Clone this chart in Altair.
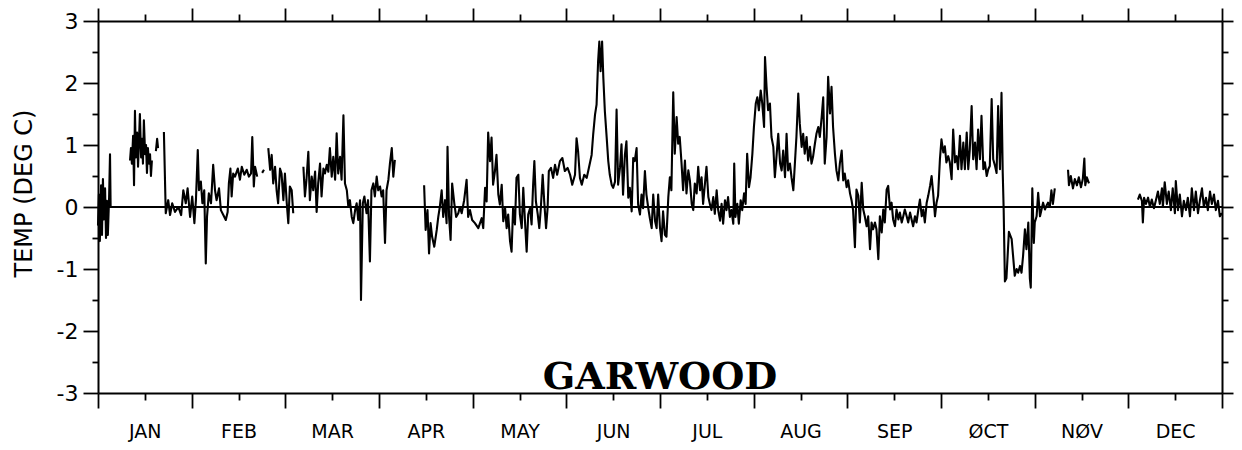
import json
import altair as alt
import pandas as pd

MONTHS = ["JAN", "FEB", "MAR", "APR", "MAY", "JUN", "JUL", "AUG", "SEP", "ØCT", "NØV", "DEC"]
Y_TICKS = [-3, -2.5, -2, -1.5, -1, -0.5, 0, 0.5, 1, 1.5, 2, 2.5, 3]
TITLE_TEXT = "GARWOOD"

# --- series (day of year, temperature anomaly deg C), one list pair per unbroken piece
jan_a_day = [0.0, 0.3, 0.6, 1.0, 1.3, 1.6, 1.9, 2.3, 2.6, 2.9, 3.2, 3.6, 3.9, 4.1]
jan_a_temp = [-0.3, 0.2, -0.55, 0.35, -0.45, 0.45, -0.2, 0.3, -0.5, 0.1, -0.45, 0.15, 0.85, 0.0]

jan_b_day = [10.4, 10.7, 11.0, 11.4, 11.7, 12.0, 12.3, 12.7, 13.0, 13.3, 13.6, 14.0, 14.3, 14.6,
             14.9, 15.3, 15.6, 15.9, 16.2, 16.6, 16.9, 17.2, 17.5]
jan_b_temp = [0.75, 0.95, 0.7, 1.15, 0.35, 1.55, 0.8, 1.2, 0.65, 1.05, 1.5, 0.8, 1.1, 0.7,
              1.4, 0.85, 1.0, 0.55, 0.95, 0.7, 0.85, 0.5, 0.75]

jan_c_day = [18.8, 19.2, 19.5]
jan_c_temp = [0.9, 1.1, 0.95]

feb_a_day = [21.4, 22.0, 22.8, 23.4, 24.1, 25.0, 26.1, 27.0, 27.7, 28.5, 29.1, 29.9, 30.6, 31.3,
             31.8, 32.4, 32.8, 33.4, 33.9, 34.5, 35.0, 35.4, 36.0, 36.7, 37.4, 38.0, 38.5, 39.3,
             39.9, 40.7, 41.5, 42.1, 42.5, 43.0, 43.4, 43.9, 44.5, 45.4, 46.1, 46.7, 47.5, 48.3,
             49.0, 49.7, 50.1, 50.6, 51.0, 51.7]
feb_a_temp = [1.21, -0.1, 0.11, -0.13, 0.06, -0.08, 0.0, -0.13, 0.27, 0.06, 0.3, -0.16, 0.17, -0.26,
              0.11, 0.92, 0.27, 0.41, 0.06, 0.27, -0.91, -0.16, 0.22, 0.06, 0.68, 0.27, 0.11, 0.3,
              -0.05, -0.13, -0.21, -0.08, 0.38, 0.62, 0.17, 0.54, 0.49, 0.62, 0.44, 0.65, 0.52, 0.6,
              0.49, 0.54, 1.13, 0.33, 0.65, 0.49]

feb_b_day = [53.3, 53.9]
feb_b_temp = [0.55, 0.6]

feb_c_day = [55.3, 55.9, 56.4, 56.9, 57.5, 58.0, 58.5, 59.1, 59.6, 60.2, 60.7, 61.3, 61.8, 62.3,
             62.9, 63.4]
feb_c_temp = [0.95, 0.6, 0.84, 0.38, 0.65, 0.27, 0.06, 0.62, 0.54, 0.11, 0.54, 0.06, -0.26, 0.33,
              0.27, -0.1]

mar_day = [66.7, 67.2, 67.7, 68.3, 68.8, 69.4, 69.9, 70.5, 71.0, 71.5, 72.1, 72.6, 73.2, 73.7,
           74.3, 74.8, 75.3, 75.9, 76.4, 77.0, 77.5, 78.0, 78.6, 79.1, 79.7, 80.2, 80.8, 81.3,
           81.8, 82.4, 82.9, 83.5, 84.0, 84.5, 85.1, 85.4, 86.0, 86.5, 87.2, 87.7, 88.3, 88.8,
           89.4, 89.9, 90.5, 91.0, 91.6, 92.1, 92.6, 93.2, 93.7, 94.3, 94.8, 95.4, 95.9, 96.4]
mar_temp = [0.65, 0.17, 0.44, 0.89, 0.11, 0.49, 0.27, 0.57, -0.08, 0.38, 0.7, 0.17, 0.62, 0.54,
            0.68, 0.57, 0.95, 0.49, 0.81, 0.44, 1.19, 0.54, 0.81, 0.44, 1.48, 0.38, 0.27, 0.0,
            0.11, -0.16, -0.26, -0.05, 0.06, -0.21, 0.11, -1.5, 0.06, 0.17, -0.1, 0.11, -0.88, 0.27,
            0.38, 0.17, 0.49, 0.27, 0.33, 0.17, 0.27, -0.58, 0.27, 0.44, 0.7, 0.95, 0.49, 0.76]

apr_oct_day = [
    105.9, 106.4, 107.0, 107.5, 108.0, 108.5, 109.2, 110.0, 110.5, 111.0, 111.6, 112.1, 112.7, 113.2,
    113.5, 114.0, 114.5, 115.0, 115.7, 116.3, 117.0, 117.5, 118.1, 118.9, 119.7, 120.2, 120.8, 121.5,
    122.4, 123.5, 124.6, 125.1, 125.7, 126.2, 126.7, 127.3, 127.8, 128.3, 128.9, 129.4, 130.0, 130.5,
    131.1, 131.6, 132.2, 132.7, 133.2, 133.8, 134.3, 134.8, 135.4, 135.9, 136.5, 137.0, 137.6, 138.1,
    138.6, 139.2, 139.7, 140.3, 140.8, 141.3, 141.7, 142.2, 142.8, 143.3, 143.8, 144.4, 144.9, 145.5,
    146.0, 146.4, 147.1, 147.8, 148.4, 149.1, 150.0, 150.8, 151.6, 152.5, 153.3, 154.0, 154.9, 155.4,
    155.9, 156.5, 157.1, 157.9, 158.7, 159.4, 160.3, 160.8, 161.4, 161.9, 162.4, 162.8, 163.2, 163.7,
    164.1, 164.6, 165.2, 165.7, 166.2, 166.8, 167.3, 167.9, 168.4, 168.9, 169.5, 170.0, 170.5, 171.1,
    171.6, 172.2, 172.7, 173.3, 173.8, 174.3, 174.9, 175.4, 176.0, 176.5, 177.0, 177.6, 178.1, 178.7,
    179.2, 179.8, 180.3, 180.9, 181.4, 181.9, 182.5, 183.0, 183.5, 184.1, 184.6, 185.2, 185.7, 186.2,
    186.8, 187.3, 187.9, 188.4, 188.9, 189.5, 190.0, 190.6, 191.1, 191.7, 192.2, 192.8, 193.3, 193.8,
    194.4, 194.9, 195.5, 196.0, 196.5, 197.1, 197.6, 198.2, 198.7, 199.2, 199.8, 200.3, 200.9, 201.4,
    202.0, 202.5, 203.0, 203.6, 204.1, 204.6, 205.2, 205.7, 206.3, 206.6, 207.0, 207.6, 208.1, 208.7,
    209.2, 209.8, 210.3, 210.8, 211.4, 211.9, 212.5, 213.0, 213.6, 214.1, 214.6, 215.2, 215.7, 216.3,
    216.6, 217.1, 217.6, 218.2, 218.7, 219.3, 219.8, 220.4, 220.9, 221.5, 222.0, 222.5, 223.1, 223.6,
    224.1, 224.7, 225.2, 225.8, 226.3, 226.8, 227.4, 227.9, 228.5, 229.0, 229.5, 230.1, 230.6, 231.2,
    231.7, 232.2, 232.8, 233.3, 233.9, 234.4, 235.0, 235.5, 236.0, 236.6, 237.1, 237.7, 238.2, 238.7,
    239.3, 239.8, 240.4, 240.9, 241.5, 242.0, 242.5, 243.1, 243.6, 244.2, 244.7, 245.2, 245.8, 246.3,
    246.9, 247.4, 248.0, 248.5, 249.0, 249.6, 250.1, 250.7, 251.2, 251.7, 252.3, 252.8, 253.4, 253.9,
    254.5, 255.0, 255.5, 256.1, 256.6, 257.2, 257.7, 258.2, 258.8, 259.3, 259.9, 260.4, 261.0, 261.5,
    262.0, 262.6, 263.1, 263.7, 264.2, 264.7, 265.3, 265.8, 266.4, 266.9, 267.5, 268.0, 268.5, 269.1,
    269.6, 270.2, 270.7, 271.2, 271.8, 272.3, 272.8, 273.4, 273.9, 274.5, 275.0, 275.5, 276.1, 276.6,
    277.2, 277.7, 278.3, 278.8, 279.3, 279.9, 280.4, 281.0, 281.5, 282.1, 282.6, 283.1, 283.7, 284.2,
    284.8, 285.3, 285.8, 286.4, 286.9, 287.5, 288.0, 288.6, 289.1, 289.6, 290.2, 290.7, 291.3, 291.8,
    292.3, 292.9, 293.4, 293.8, 294.1, 294.5, 295.0, 295.8, 296.7, 297.7, 298.3, 298.8, 299.4, 299.9,
    300.4, 301.0, 301.5, 302.1, 302.6, 302.9, 303.4, 303.9, 304.2, 304.8, 305.3, 305.9, 306.4, 306.9,
    307.5, 308.0, 308.5, 309.1, 309.6, 310.1, 310.7]
apr_oct_temp = [
    0.35, -0.37, -0.05, -0.75, -0.26, -0.48, -0.64, -0.37, -0.16, 0.0, 0.27, -0.16, 0.11, -0.26,
    0.97, -0.16, -0.53, 0.38, 0.06, -0.16, -0.1, 0.0, -0.1, 0.11, 0.44, -0.16, -0.05, -0.21,
    -0.26, -0.34, -0.18, -0.34, 0.31, 0.09, 1.2, 0.74, 1.12, 0.36, 0.58, 0.84, 0.2, 0.04,
    0.36, -0.23, -0.02, -0.34, -0.12, -0.55, -0.72, -0.02, -0.28, 0.47, 0.52, -0.12, -0.34, 0.31,
    -0.18, -0.72, -0.12, -0.02, -0.28, 0.36, 0.74, 0.09, -0.12, -0.34, -0.02, 0.52, 0.09, -0.34,
    -0.02, 0.58, 0.63, 0.47, 0.68, 0.52, 0.74, 0.79, 0.58, 0.63, 0.52, 0.36, 0.52, 1.11,
    0.9, 0.47, 0.36, 0.52, 0.47, 0.63, 0.84, 1.17, 1.49, 1.65, 2.35, 2.67, 2.19, 2.67,
    2.08, 1.54, 1.11, 0.74, 0.52, 0.36, 0.31, 0.41, 1.57, 0.36, 0.63, 1.01, 0.2, 0.84,
    1.06, 0.15, 0.31, -0.07, 0.79, 0.74, 0.95, 0.04, -0.12, 0.2, -0.02, 0.58, 0.2, -0.02,
    -0.18, -0.34, 0.2, -0.23, -0.34, 0.2, -0.34, -0.55, -0.07, -0.45, -0.48, 0.16, 0.48, 0.27,
    1.85, 0.86, 1.45, 1.02, 1.13, 0.7, 0.27, 0.75, 0.22, 0.59, 0.43, 0.05, -0.05, 0.38,
    0.22, 0.65, 0.27, 0.48, 0.05, 0.38, 0.65, 0.16, 0.05, -0.05, 0.16, -0.11, 0.27, -0.05,
    -0.22, 0.05, -0.27, 0.11, -0.05, 0.16, -0.16, -0.05, -0.27, 0.7, -0.16, 0.05, -0.27, 0.11,
    -0.05, 0.22, 0.05, 0.86, 0.32, 0.48, 0.86, 1.29, 1.67, 1.77, 1.56, 1.88, 1.67, 1.29,
    2.42, 1.94, 1.56, 1.67, 1.13, 0.97, 0.48, 0.86, 1.18, 0.7, 0.59, 0.91, 0.48, 1.18,
    0.59, 0.7, 0.48, 0.27, 0.7, 1.13, 1.83, 1.34, 0.97, 1.18, 0.86, 1.13, 0.75, 0.97,
    0.7, 0.81, 1.02, 1.18, 1.29, 1.13, 1.45, 1.77, 0.7, 1.13, 2.1, 1.51, 1.94, 1.29,
    0.86, 0.59, 0.43, 0.7, 0.91, 0.43, 0.54, 0.32, 0.43, 0.22, 0.11, -0.05, -0.65, 0.28,
    0.18, -0.25, 0.39, -0.04, -0.15, -0.31, -0.15, -0.68, -0.25, -0.36, -0.25, -0.36, -0.84, -0.15,
    -0.41, -0.04, -0.25, 0.28, 0.34, -0.04, 0.07, -0.2, -0.31, -0.04, -0.2, -0.09, -0.25, -0.15,
    -0.04, -0.15, -0.25, -0.09, -0.2, -0.31, -0.15, -0.25, -0.04, 0.12, -0.15, -0.04, -0.25, 0.07,
    0.18, 0.34, 0.5, 0.23, -0.15, 0.07, 0.18, 0.77, 1.09, 0.88, 0.98, 0.72, 0.82, 0.72,
    0.45, 1.25, 0.72, 0.82, 0.61, 1.15, 0.61, 1.04, 0.61, 1.2, 0.61, 0.93, 1.63, 0.77,
    1.04, 0.61, 1.25, 0.77, 1.47, 0.61, 0.72, 0.5, 0.61, 0.66, 1.74, 0.77, 0.66, 0.55,
    1.63, 0.61, 1.84, 0.55, -0.04, -1.2, -1.15, -0.4, -0.52, -1.11, -1.0, -1.06, -0.95, -1.06,
    -0.79, -0.36, -0.68, -0.25, -1.15, -1.3, 0.3, -0.58, -0.25, -0.15, 0.23, -0.15, -0.04, 0.07,
    -0.04, 0.02, 0.07, 0.0, 0.27, 0.05, 0.3]

nov_day = [315.0, 315.3, 315.9, 316.6, 317.2, 317.9, 318.5, 319.2, 319.8, 320.3, 320.6, 321.1, 321.8]
nov_temp = [0.6, 0.35, 0.5, 0.3, 0.45, 0.35, 0.48, 0.32, 0.45, 0.78, 0.35, 0.48, 0.38]

dec_day = [337.7, 338.3, 339.0, 339.3, 339.7, 340.3, 341.0, 341.6, 342.2, 342.9, 343.5, 344.2, 344.8,
           345.5, 345.8, 346.4, 347.1, 347.7, 348.4, 349.0, 349.7, 350.0, 350.7, 351.3, 352.0, 352.6,
           353.3, 353.9, 354.6, 355.2, 355.9, 356.5, 357.2, 357.8, 358.5, 359.1, 359.8, 360.4, 361.1,
           361.7, 362.4, 363.0, 363.7, 364.3, 365.0]
dec_temp = [0.12, 0.2, 0.1, -0.25, 0.15, 0.05, 0.15, 0.0, 0.12, -0.02, 0.1, 0.25, 0.05,
            0.3, 0.0, 0.4, 0.05, 0.25, -0.05, 0.3, -0.1, 0.42, -0.05, 0.2, -0.15, 0.1,
            -0.05, 0.15, -0.15, 0.3, -0.05, 0.25, -0.1, 0.1, 0.3, 0.0, 0.15, -0.05, 0.25,
            0.05, 0.2, -0.05, 0.1, -0.15, -0.1]

SEGMENTS = [
    (jan_a_day, jan_a_temp), (jan_b_day, jan_b_temp), (jan_c_day, jan_c_temp),
    (feb_a_day, feb_a_temp), (feb_b_day, feb_b_temp), (feb_c_day, feb_c_temp),
    (mar_day, mar_temp), (apr_oct_day, apr_oct_temp), (nov_day, nov_temp), (dec_day, dec_temp),
]

frames = []
for i, (d, t) in enumerate(SEGMENTS):
    assert len(d) == len(t), (i, len(d), len(t))
    frames.append(pd.DataFrame({"day": d, "temp": t, "seg": i}))
df = pd.concat(frames, ignore_index=True)

YEAR = 365
half_months = [k * YEAR / 24 for k in range(25)]
kexpr = f"round(datum.value*24/{YEAR})"
month_label_expr = (
    f"{kexpr} % 2 == 1 ? {json.dumps(MONTHS, ensure_ascii=False)}[floor({kexpr}/2)] : ''"
)

FONT = "DejaVu Sans"
x_scale = alt.Scale(domain=[0, YEAR], nice=False, zero=False)
y_scale = alt.Scale(domain=[-3, 3], nice=False, zero=False)

common_axis = dict(
    grid=False, domainColor="black", domainWidth=2, tickColor="black", tickWidth=1.8,
    labelColor="black", labelFont=FONT, labelOverlap=False, labelFlush=False, labelBound=False,
)

bottom_axis = alt.Axis(
    orient="bottom", values=half_months, labelExpr=month_label_expr, title=None,
    tickSize={"condition": {"test": f"{kexpr} % 2 == 0", "value": 15}, "value": 7},
    labelFontSize=19, labelPadding=22, **common_axis,
)
top_axis = alt.Axis(
    orient="top", values=half_months, labels=False, title=None,
    tickSize={"condition": {"test": f"{kexpr} % 2 == 0", "value": 13}, "value": 7},
    **common_axis,
)
left_axis = alt.Axis(
    orient="left", values=Y_TICKS, labelExpr="datum.value % 1 == 0 ? '' + datum.value : ''",
    tickSize={"condition": {"test": "datum.value % 1 == 0", "value": 15}, "value": 6},
    labelFontSize=22, labelPadding=5,
    title="TEMP (DEG C)", titleFont=FONT, titleFontSize=24, titleFontWeight="normal",
    titleColor="black", titlePadding=20, titleY=172, **common_axis,
)
right_axis = alt.Axis(
    orient="right", values=Y_TICKS, labels=False, title=None,
    tickSize={"condition": {"test": "datum.value % 1 == 0", "value": 11}, "value": 6},
    **common_axis,
)

trace = alt.Chart(df).mark_line(color="black", strokeWidth=2.1, strokeJoin="round").encode(
    x=alt.X("day:Q", scale=x_scale, axis=bottom_axis),
    y=alt.Y("temp:Q", scale=y_scale, axis=left_axis),
    detail="seg:N",
)

frame_axes = alt.Chart(df).mark_line(opacity=0).encode(
    x=alt.X("day:Q", scale=x_scale, axis=top_axis),
    y=alt.Y("temp:Q", scale=y_scale, axis=right_axis),
    detail="seg:N",
)

zero_line = alt.Chart(pd.DataFrame({"v": [0]})).mark_rule(color="black", strokeWidth=2).encode(
    y=alt.Y("v:Q", scale=y_scale, axis=None),
)

title_text = alt.Chart(pd.DataFrame({"label": [TITLE_TEXT]})).mark_text(
    font="DejaVu Serif", fontWeight="bold", fontSize=38, color="black",
    align="center", baseline="alphabetic",
).encode(
    x=alt.XDatum(182.5, scale=x_scale, axis=None),
    y=alt.YDatum(-2.93, scale=y_scale, axis=None),
    text="label:N",
)

chart = (
    alt.layer(trace, frame_axes, zero_line, title_text)
    .resolve_axis(x="independent", y="independent")
    .properties(
        width=1124, height=372,
        autosize=alt.AutoSizeParams(type="none"),
        padding={"left": 90, "top": 13, "right": 12, "bottom": 54},
        background="white",
    )
    .configure_view(stroke=None)
)

chart.save("out.html", embed_options={"renderer": "svg", "actions": False})
